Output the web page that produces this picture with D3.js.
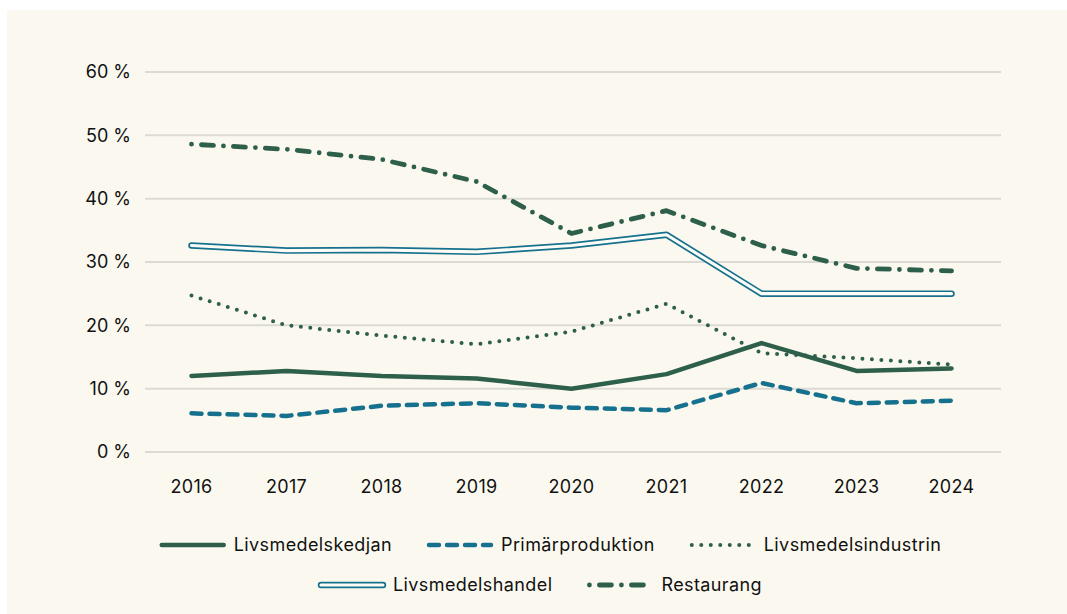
<!DOCTYPE html>
<html>
<head>
<meta charset="utf-8">
<script src="https://cdn.jsdelivr.net/npm/d3@7"></script>
<style>
  body { margin: 0; background: #ffffff; }
  text { font-family: "Inter", "Noto Sans", sans-serif; fill: #111; }
</style>
</head>
<body>
<div id="plot"></div>
<script>
// Data
const years = [2016, 2017, 2018, 2019, 2020, 2021, 2022, 2023, 2024];
const yTicks = [0, 10, 20, 30, 40, 50, 60];

const seriesNames = ["Livsmedelskedjan", "Primärproduktion", "Livsmedelsindustrin", "Livsmedelshandel", "Restaurang"];
const kedjan = [12.0, 12.8, 12.0, 11.6, 10.0, 12.3, 17.2, 12.8, 13.2];
const primar = [6.1, 5.7, 7.3, 7.7, 7.0, 6.6, 10.9, 7.7, 8.1];
const industri = [24.7, 20.0, 18.4, 17.0, 19.0, 23.4, 15.6, 14.8, 13.8];
const handel = [32.6, 31.8, 31.9, 31.6, 32.6, 34.3, 25.0, 25.0, 25.0];
const restaurang = [48.6, 47.8, 46.2, 42.7, 34.5, 38.1, 32.6, 29.0, 28.6];

// Parameters
const svg_w = 1067;
const svg_h = 614;
const green = "#2d5f4a";
const teal = "#15718d";
const cream = "#fbf9ef";

const styles = [
  {color: green, width: 4.5, dash: null, cap: "round"},
  {color: teal, width: 4.5, dash: "10 8", cap: "round"},
  {color: green, width: 4, dash: "0 9.5", cap: "round"},
  {color: teal, width: 6.5, dash: null, cap: "round", double: true},
  {color: green, width: 4.8, dash: "0 10 12 10", cap: "round"}
];
const allSeries = [kedjan, primar, industri, handel, restaurang];

const svg = d3.select("div#plot")
  .append("svg")
    .attr("width", svg_w)
    .attr("height", svg_h);

// background panel
svg.append("rect")
    .attr("x", 7)
    .attr("y", 10)
    .attr("width", svg_w - 7)
    .attr("height", svg_h - 10)
    .attr("fill", cream);

const xScale = d3.scalePoint().domain(years).range([191.5, 951.5]);
const yScale = d3.scaleLinear().domain([0, 60]).range([452, 72]);

// gridlines
svg.append("g")
  .selectAll("line")
  .data(yTicks)
  .join("line")
    .attr("x1", 145)
    .attr("x2", 1001)
    .attr("y1", d => yScale(d))
    .attr("y2", d => yScale(d))
    .attr("stroke", "#dcdad4")
    .attr("stroke-width", 2);

// y labels
svg.append("g")
  .selectAll("text")
  .data(yTicks)
  .join("text")
    .attr("x", 131)
    .attr("y", d => yScale(d))
    .attr("dy", "0.36em")
    .attr("text-anchor", "end")
    .style("font-size", "18px")
    .text(d => d + " %");

// x labels
svg.append("g")
  .selectAll("text")
  .data(years)
  .join("text")
    .attr("x", d => xScale(d))
    .attr("y", 487)
    .attr("dy", "0.36em")
    .attr("text-anchor", "middle")
    .style("font-size", "18px")
    .style("letter-spacing", "0.3px")
    .text(d => d);

const line = d3.line()
    .x((d, i) => xScale(years[i]))
    .y(d => yScale(d));

function drawPath(g, d, st) {
  const p = g.append("path")
      .attr("d", d)
      .attr("fill", "none")
      .attr("stroke", st.color)
      .attr("stroke-width", st.width)
      .attr("stroke-linecap", st.cap)
      .attr("stroke-linejoin", "round");
  if (st.dash) p.attr("stroke-dasharray", st.dash);
  if (st.double) {
    g.append("path")
        .attr("d", d)
        .attr("fill", "none")
        .attr("stroke", "#fdfcf6")
        .attr("stroke-width", st.width - 3.4)
        .attr("stroke-linecap", st.cap)
        .attr("stroke-linejoin", "round");
  }
}

// draw order: handel, industri, restaurang, primar, kedjan on top
const lines = svg.append("g");
[3, 2, 4, 1, 0].forEach(i => drawPath(lines.append("g"), line(allSeries[i]), styles[i]));

// legend
const legendRows = [[0, 1, 2], [3, 4]];
const rowY = [545, 585];
const rowCenter = [550, 540];
const swatchW = 68;
const itemGap = 34;
const legend = svg.append("g");

legendRows.forEach((row, r) => {
  const g = legend.append("g");
  let x = 0;
  row.forEach((i, k) => {
    const st = styles[i];
    const item = g.append("g").attr("transform", `translate(${x},${rowY[r]})`);
    drawPath(item, `M3,0H${swatchW - 3}`, st);
    const t = item.append("text")
        .attr("x", swatchW + 7)
        .attr("dy", "0.36em")
        .style("font-size", "18px")
        .style("letter-spacing", "0.4px")
        .text(seriesNames[i]);
    x += swatchW + 7 + t.node().getComputedTextLength() + itemGap;
  });
  const total = x - itemGap;
  g.attr("transform", `translate(${rowCenter[r] - total / 2},0)`);
});
</script>
</body>
</html>
